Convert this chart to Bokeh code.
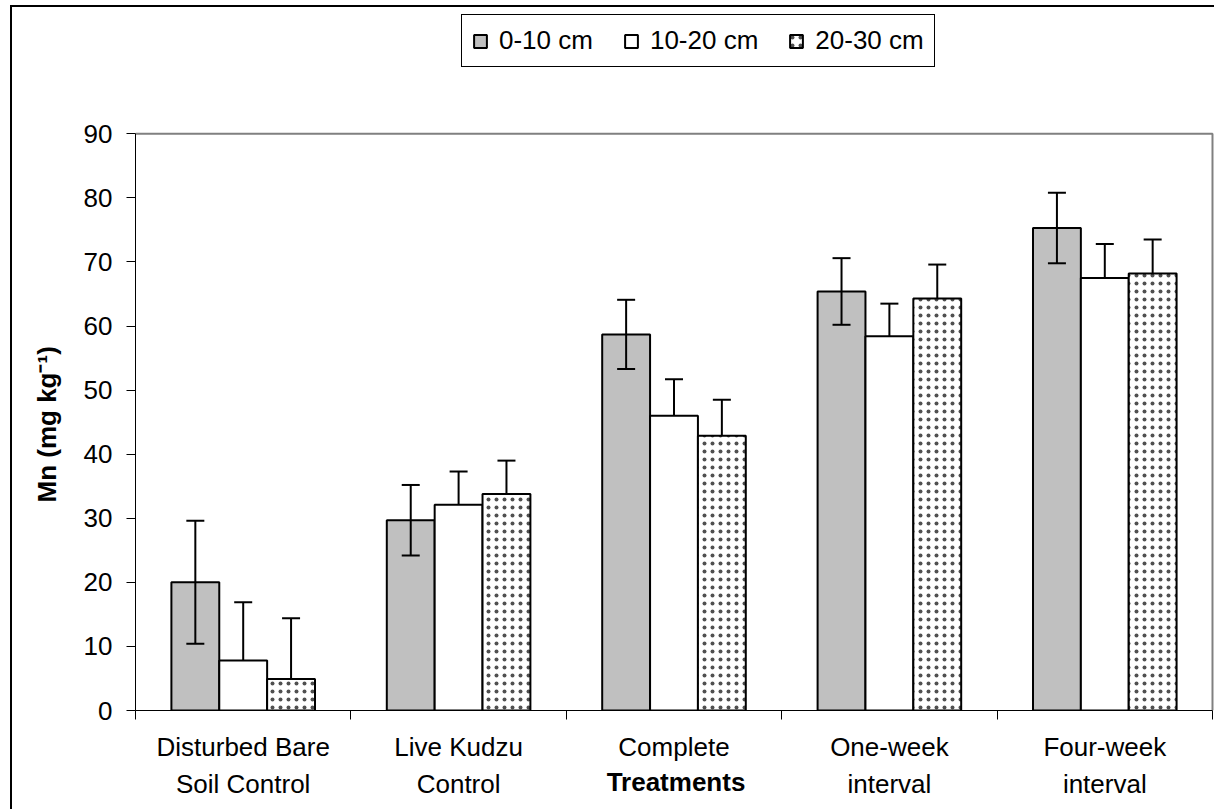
from bokeh.plotting import figure
from bokeh.models import (Range1d, FixedTicker, Whisker, TeeHead, ColumnDataSource,
                          Legend, LegendItem, Title)
from bokeh.embed import file_html
from bokeh.resources import INLINE

# Treatments (x categories) and soil depths (series)
categories = ["Disturbed Bare\nSoil Control", "Live Kudzu\nControl", "Complete",
              "One-week\ninterval", "Four-week\ninterval"]
depths = ["0-10 cm", "10-20 cm", "20-30 cm"]

# Mean Mn concentration (mg/kg) per treatment and depth
mn_0_10 = [20.0, 29.7, 58.7, 65.4, 75.3]
mn_10_20 = [7.8, 32.1, 46.0, 58.4, 67.5]
mn_20_30 = [4.9, 33.8, 42.9, 64.3, 68.2]

# Standard errors
err_0_10 = [9.6, 5.5, 5.4, 5.2, 5.5]
err_10_20 = [9.1, 5.2, 5.7, 5.1, 5.3]
err_20_30 = [9.5, 5.2, 5.6, 5.3, 5.3]

y_ticks = [0, 10, 20, 30, 40, 50, 60, 70, 80, 90]

FONT = "Liberation Sans"
n = len(categories)
y_max = y_ticks[-1]
bar_w = 1 / 4.5            # three bars plus a 150% gap per category
offsets = [-bar_w, 0.0, bar_w]

# chart border: 10px in from the left, 5px down from the top
BORDER_L, BORDER_T, BORDER_W = 10, 5, 2
W = 1214 - BORDER_L - BORDER_W
H = 809 - BORDER_T - BORDER_W

# plot area (value axis 0..90) is 1075 x 575 px; the frame is stretched upwards
# so the legend above the plot area lies inside it
PA_W, PA_H = 1075, 575
frame_left = 135 - BORDER_L - BORDER_W
frame_top = 10 - BORDER_T - BORDER_W
pa_bottom = 708 - BORDER_T - BORDER_W
frame_w = W - frame_left
frame_h = pa_bottom - frame_top
x_end = n * frame_w / PA_W
y_end = y_max * frame_h / PA_H

p = figure(width=W, height=H,
           x_range=Range1d(0, x_end), y_range=Range1d(0, y_end),
           output_backend="svg", toolbar_location=None,
           min_border_left=frame_left, min_border_right=0,
           min_border_top=frame_top, min_border_bottom=H - pa_bottom)
p.styles = {
    "margin-left": f"{BORDER_L}px",
    "margin-top": f"{BORDER_T}px",
    "border-left": f"{BORDER_W}px solid black",
    "border-top": f"{BORDER_W}px solid black",
    "box-sizing": "content-box",
}
p.background_fill_color = "white"
p.border_fill_color = "white"
p.outline_line_color = None
p.xgrid.visible = False
p.ygrid.visible = False

# plot-area border (top and right edges)
p.line(x=[0, n, n], y=[y_max, y_max, 0], line_color="#808080", line_width=2)

series = [
    (mn_0_10, err_0_10, dict(fill_color="#C0C0C0"), True),
    (mn_10_20, err_10_20, dict(fill_color="white"), False),
    (mn_20_30, err_20_30, dict(fill_color="white", hatch_pattern="dot", hatch_color="#505050",
                               hatch_scale=8, hatch_weight=1), False),
]

renderers = []
for k, (vals, errs, style, both) in enumerate(series):
    xs = [i + 0.5 + offsets[k] for i in range(n)]
    src = ColumnDataSource(dict(
        x=xs, top=vals,
        upper=[v + e for v, e in zip(vals, errs)],
        lower=[(v - e) if both else v for v, e in zip(vals, errs)],
    ))
    r = p.vbar(x="x", top="top", bottom=0, width=bar_w, source=src,
               line_color="black", line_width=2, **style)
    renderers.append(r)
    w = Whisker(source=src, base="x", upper="upper", lower="lower",
                line_color="black", line_width=2, level="annotation",
                upper_head=TeeHead(size=18, line_color="black", line_width=2),
                lower_head=TeeHead(size=18, line_color="black", line_width=2) if both else None)
    p.add_layout(w)

# Y axis
yax = p.yaxis[0]
yax.ticker = FixedTicker(ticks=y_ticks)
yax.bounds = (0, y_max)
yax.axis_line_color = "black"
yax.major_tick_out = 9
yax.major_tick_in = 0
yax.minor_tick_line_color = None
yax.major_label_standoff = 14
yax.major_label_text_font = FONT
yax.major_label_text_font_size = "26px"
yax.major_label_text_color = "black"

# Y axis title, centred along the 0..90 span of the value axis
p.add_layout(Title(text="Mn (mg kg\u207b\u00b9)", align="left", offset=208,
                   vertical_align="middle", standoff=36,
                   text_font=FONT, text_font_size="26px", text_font_style="bold",
                   text_color="black"), "left")

# X axis: labels at category centres, ticks at category boundaries
xax = p.xaxis[0]
xax.ticker = FixedTicker(ticks=[i + 0.5 for i in range(n)],
                         minor_ticks=list(range(n + 1)))
xax.bounds = (0, n)
xax.major_label_overrides = {i + 0.5: c for i, c in enumerate(categories)}
xax.axis_line_color = "black"
xax.major_tick_line_color = None
xax.major_tick_out = 9
xax.major_tick_in = 0
xax.minor_tick_line_color = "black"
xax.minor_tick_out = 9
xax.minor_tick_in = 0
xax.major_label_standoff = 12
xax.major_label_text_font = FONT
xax.major_label_text_font_size = "26px"
xax.major_label_text_color = "black"
xax.major_label_text_line_height = 1.25
xax.axis_label = "Treatments"
xax.axis_label_text_font = FONT
xax.axis_label_text_font_size = "26px"
xax.axis_label_text_font_style = "bold"
xax.axis_label_text_color = "black"
xax.axis_label_standoff = -35

# Legend above the plot area (offsets from the frame's bottom-left corner)
legend = Legend(
    items=[LegendItem(label=d, renderers=[r]) for d, r in zip(depths, renderers)],
    orientation="horizontal", location=(461 - 135, 708 - 65), margin=0, padding=10,
    spacing=30, label_standoff=11, glyph_width=16, glyph_height=16,
    border_line_color="black", border_line_width=1, border_line_alpha=1,
    background_fill_color="white", background_fill_alpha=1,
    label_text_font=FONT, label_text_font_size="26px", label_text_color="black",
)
p.add_layout(legend)

open("out.html", "w").write(file_html(p, INLINE))
